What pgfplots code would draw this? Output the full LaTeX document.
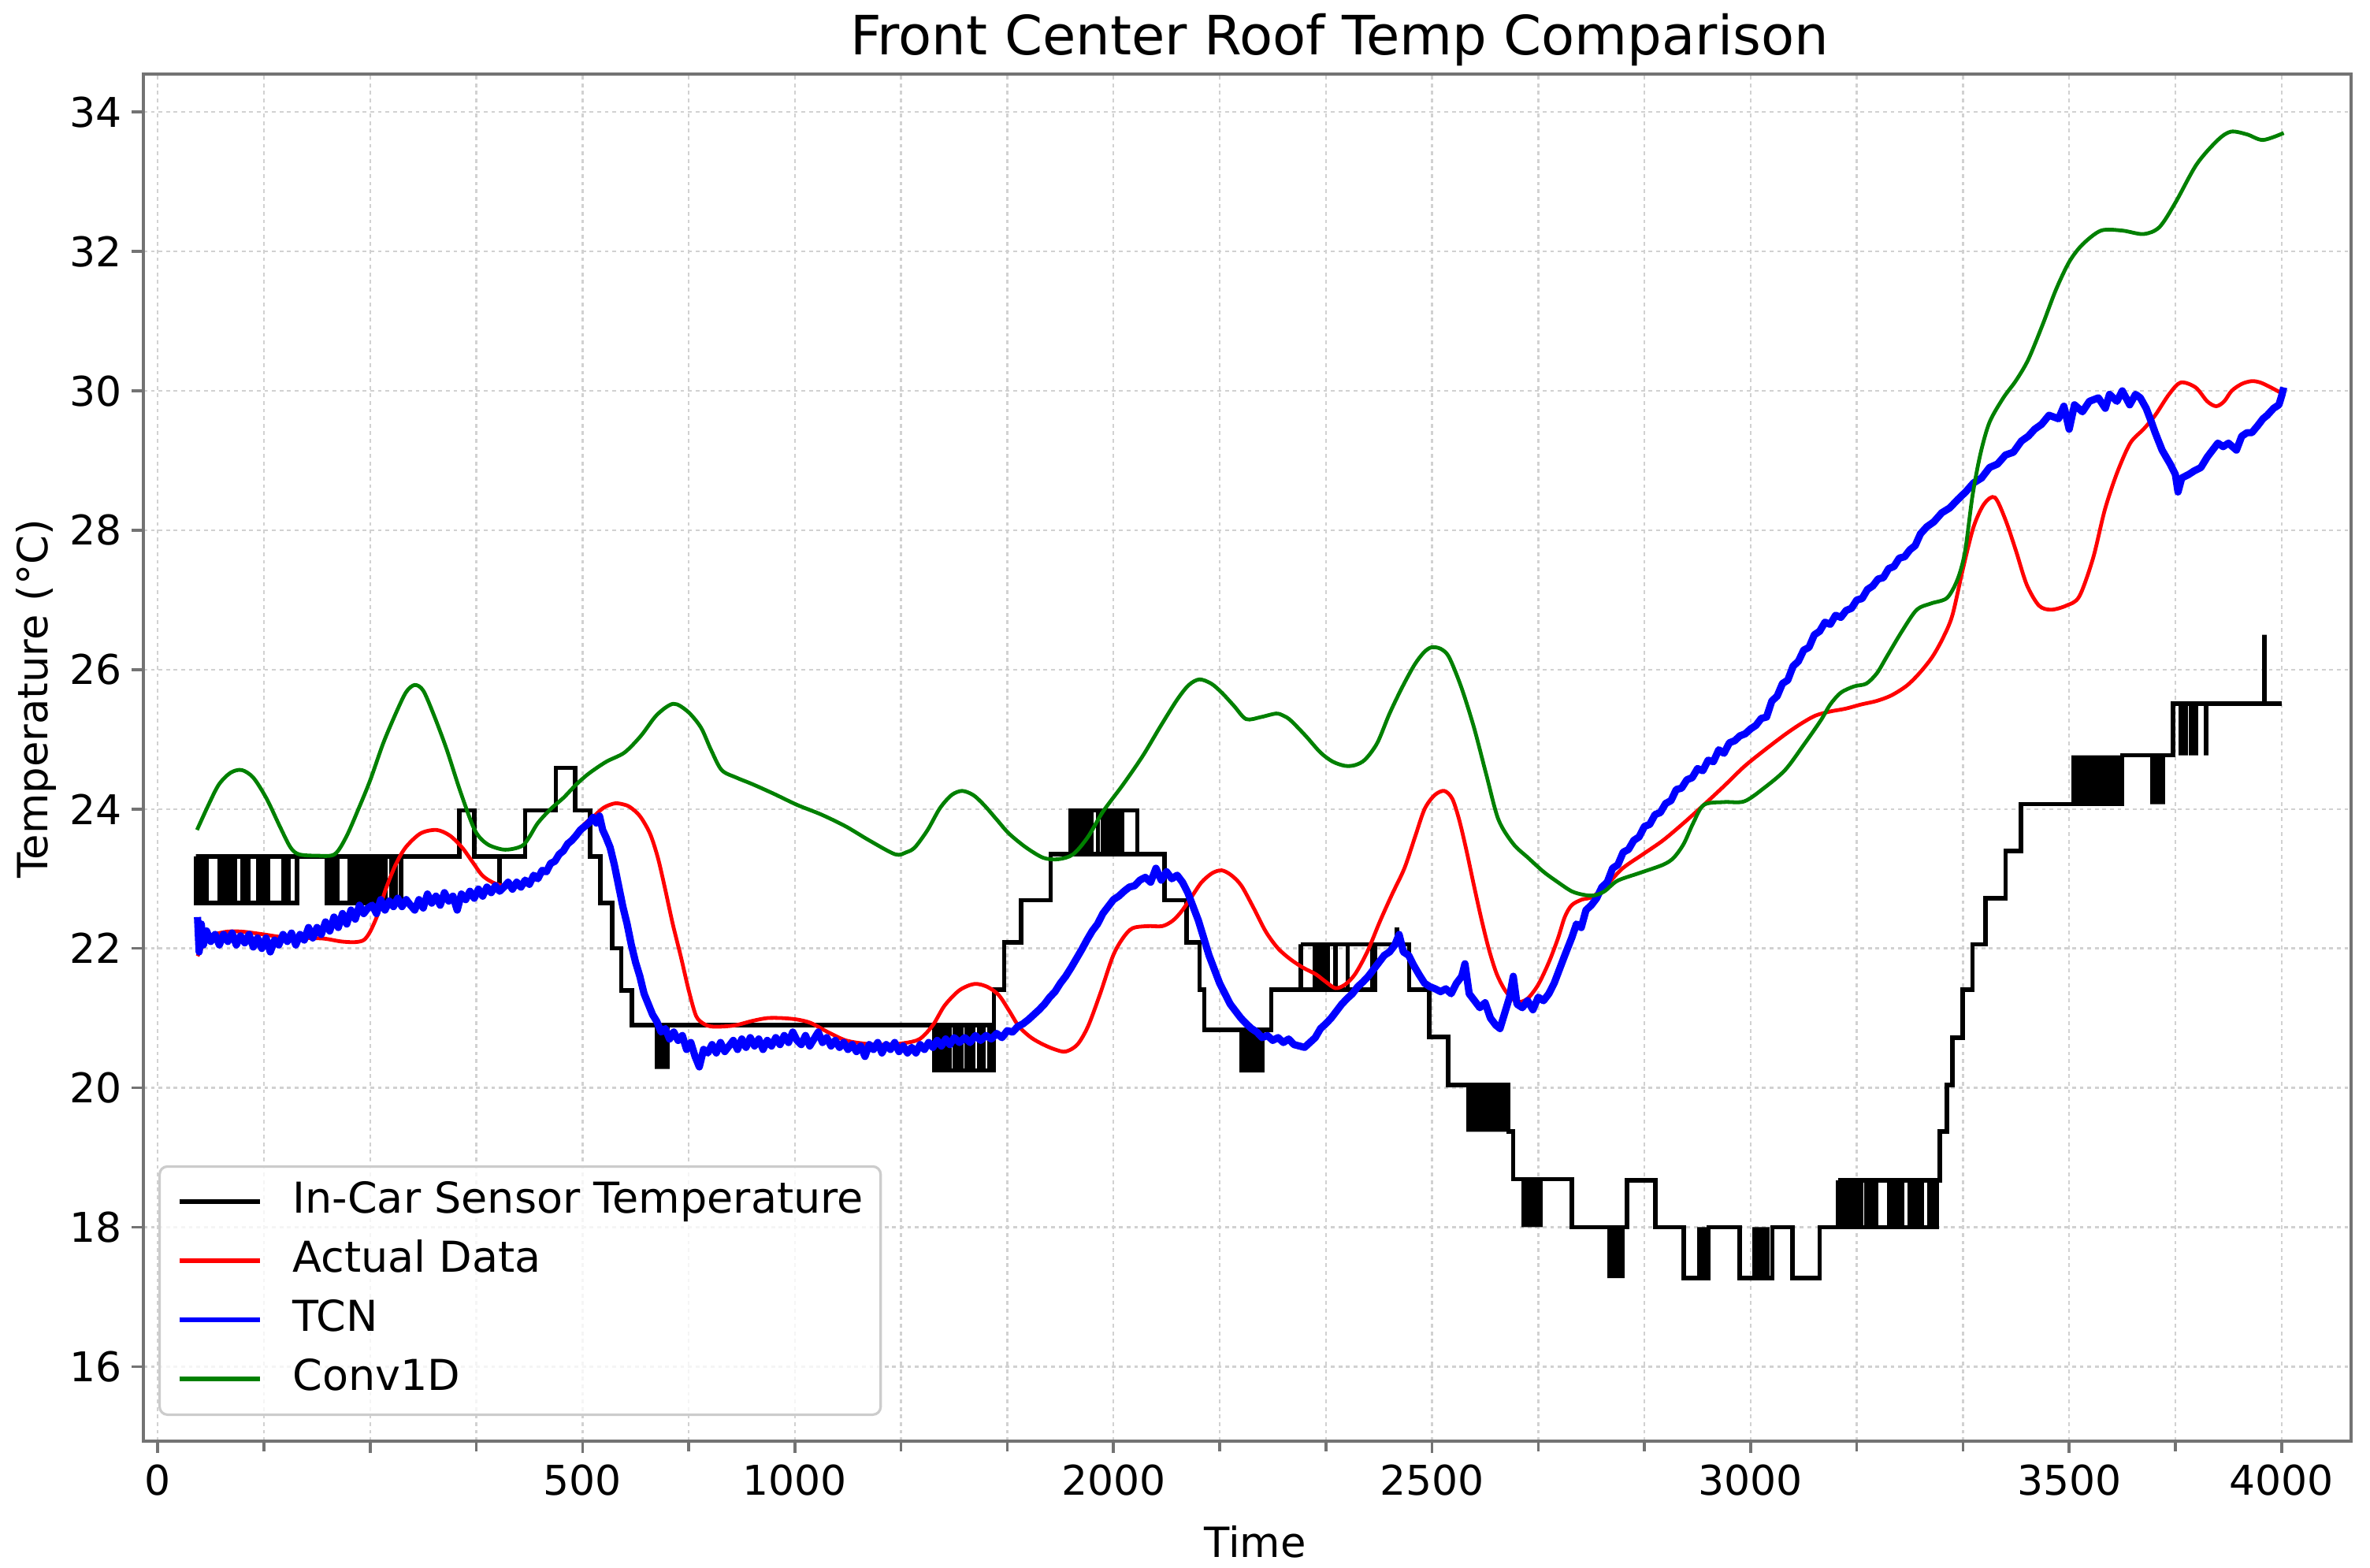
\documentclass[border=0pt]{standalone}
\usepackage{fontspec}
\setmainfont{DejaVu Sans}
\usepackage{pgfplots}
\pgfplotsset{compat=1.18}

\definecolor{mplgreen}{rgb}{0,0.5,0}

\begin{document}
\begin{tikzpicture}
\begin{axis}[
  name=ax,
  width=700.5pt, height=433.75pt, scale only axis,
  xmin=-27, xmax=4131, ymin=14.93, ymax=34.546,
  axis line style={black!55, line width=1.1pt},
  tick style={black!55, line width=0.9pt},
  major tick length=3.75pt, minor tick length=3.2pt,
  tick align=outside, xtick pos=bottom, ytick pos=left,
  xtick={0,400,800,1200,1800,2400,3000,3600,4000},
  xticklabels={0,,{500\hspace{11pt}},1000,2000,2500,3000,3500,4000},
  minor xtick={200,600,1000,1400,1600,2000,2200,2600,2800,3200,3400,3800},
  ytick={16,18,20,22,24,26,28,30,32,34},
  grid=both,
  major grid style={black!18, line width=0.6pt, dash pattern=on 1.2pt off 1.2pt},
  minor grid style={black!18, line width=0.6pt, dash pattern=on 1.2pt off 1.2pt},
  /pgf/number format/assume math mode=true,
  ticklabel style={font=\fontsize{13}{15.6}\selectfont},
  xticklabel style={anchor=north, inner sep=0pt, yshift=-3.5pt},
  yticklabel style={anchor=east, inner sep=0pt, xshift=-3pt},
  title={Front Center Roof Temp Comparison},
  title style={at={(axis description cs:0.5418,1)}, anchor=base, inner sep=0pt, font=\fontsize{17.2}{20}\selectfont},
  xlabel={Time},
  xlabel style={at={(axis description cs:0.5036,-0.08473)}, anchor=base, inner sep=0pt, font=\fontsize{13.2}{16}\selectfont},
  ylabel={Temperature (°C)},
  ylabel style={at={(axis description cs:-0.04354,0.543)}, anchor=base, inner sep=0pt, font=\fontsize{13.2}{16}\selectfont},
  legend style={at={(axis description cs:0.00678,0.01844)}, anchor=south west,
    draw=black!20, line width=0.8pt, rounded corners=2.5pt, fill=white, fill opacity=0.8, text opacity=1,
    font=\fontsize{13.5}{16}\selectfont, inner xsep=5.5pt, inner ysep=4.5pt,
    nodes={inner sep=0pt, text height=10.3pt, text depth=3.2pt},
    row sep=5.25pt, column sep=9.75pt},
  legend cell align=left,
  legend image code/.code={\draw[#1, line width=1.5pt] (0pt,0pt) -- (25.5pt,0pt);},
]

% In-Car Sensor Temperature (stepped, flickering sensor)
\addplot[black, line width=1.4pt, const plot mark left] coordinates {
(72,22.65)
(72,23.32)(72,22.65)(76,23.32)(76,22.65)(80,23.32)(80,22.65)(84,23.32)(84,22.65)(88,23.32)(88,22.65)(92,23.32)(92,22.65)
(117,23.32)(117,22.65)(121,23.32)(121,22.65)(125,23.32)(125,22.65)(129,23.32)(129,22.65)(133,23.32)(133,22.65)(137,23.32)(137,22.65)(141,23.32)(141,22.65)(146,23.32)(146,22.65)
(160,23.32)(160,22.65)(165,23.32)(165,22.65)(170,23.32)(170,22.65)
(189,23.32)(189,22.65)(193,23.32)(193,22.65)(197,23.32)(197,22.65)(201,23.32)(201,22.65)(205,23.32)(205,22.65)(208,23.32)(208,22.65)
(237,23.32)(237,22.65)(242,23.32)(242,22.65)(246,23.32)(246,22.65)
(262,23.32)(72,23.32)
(318,22.65)
(322,23.32)(322,22.65)(328,23.32)(328,22.65)(334,23.32)(334,22.65)(338,23.32)(338,22.65)
(362,23.32)(362,22.65)(366,23.32)(366,22.65)(370,23.32)(370,22.65)(374,23.32)(374,22.65)(378,23.32)(378,22.65)(382,23.32)(382,22.65)(386,23.32)(386,22.65)(390,23.32)(390,22.65)(394,23.32)(394,22.65)(398,23.32)(398,22.65)(402,23.32)(402,22.65)(406,23.32)(406,22.65)(410,23.32)(410,22.65)(414,23.32)(414,22.65)(418,23.32)(418,22.65)(422,23.32)(422,22.65)(426,23.32)(426,22.65)
(429,23.32)(318,23.32)
(440,22.65)(440,23.32)(448,22.65)(448,23.32)(458,22.65)(458,23.32)
(568,23.98)(596,23.32)(644,22.8)(644,23.32)(692,23.98)(750,24.59)(786,23.98)(814,23.32)(834,22.65)(856,22.0)(873,21.4)(893,20.9)
(940,20.27)(940,20.9)(944,20.27)(944,20.9)(948,20.27)(948,20.9)(952,20.27)(952,20.9)(956,20.27)(956,20.9)(960,20.27)(960,20.9)
(1463,20.25)
(1467,20.9)(1467,20.25)(1471,20.9)(1471,20.25)(1475,20.9)(1475,20.25)(1479,20.9)(1479,20.25)(1482,20.9)(1482,20.25)
(1491,20.9)(1491,20.25)
(1501,20.9)(1501,20.25)(1505,20.9)(1505,20.25)(1509,20.9)(1509,20.25)(1513,20.9)(1513,20.25)
(1524,20.9)(1524,20.25)(1528,20.9)(1528,20.25)(1532,20.9)(1532,20.25)(1536,20.9)(1536,20.25)
(1547,20.9)(1547,20.25)(1551,20.9)(1551,20.25)(1555,20.9)(1555,20.25)
(1566,20.9)(1566,20.25)(1570,20.9)(1570,20.25)
(1575,20.9)(1463,20.9)
(1575,21.41)(1594,22.09)(1626,22.69)(1682,23.35)
(1719,23.98)(1719,23.35)(1723,23.98)(1723,23.35)(1727,23.98)(1727,23.35)(1731,23.98)(1731,23.35)(1735,23.98)(1735,23.35)(1739,23.98)(1739,23.35)(1743,23.98)(1743,23.35)(1747,23.98)(1747,23.35)(1751,23.98)(1751,23.35)(1755,23.98)(1755,23.35)(1759,23.98)(1759,23.35)
(1771,23.98)(1771,23.35)
(1780,23.98)(1780,23.35)(1784,23.98)(1784,23.35)(1788,23.98)(1788,23.35)(1792,23.98)(1792,23.35)(1796,23.98)(1796,23.35)(1800,23.98)(1800,23.35)(1804,23.98)(1804,23.35)(1808,23.98)(1808,23.35)(1812,23.98)(1812,23.35)(1816,23.98)(1816,23.35)
(1845,23.98)(1845,23.35)(1845,23.98)(1719,23.98)(1719,23.35)
(1896,22.69)(1938,22.09)(1962,21.41)(1971,20.83)
(2041,20.22)(2041,20.83)(2045,20.22)(2045,20.83)(2049,20.22)(2049,20.83)(2053,20.22)(2053,20.83)(2057,20.22)(2057,20.83)(2061,20.22)(2061,20.83)(2065,20.22)(2065,20.83)(2069,20.22)(2069,20.83)(2073,20.22)(2073,20.83)(2077,20.22)(2077,20.83)(2081,20.22)(2081,20.83)
(2097,21.41)
(2153,22.06)(2153,21.41)
(2180,22.06)(2180,21.41)(2184,22.06)(2184,21.41)(2188,22.06)(2188,21.41)(2192,22.06)(2192,21.41)(2196,22.06)(2196,21.41)(2200,22.06)(2200,21.41)(2204,22.06)(2204,21.41)
(2218,22.06)(2218,21.41)(2241,22.06)(2241,21.41)(2288,22.06)(2288,21.41)
(2292,22.06)(2153,22.06)
(2334,22.3)(2334,22.06)
(2357,21.41)(2395,20.73)(2430,20.04)
(2469,19.37)(2469,20.04)(2473,19.37)(2473,20.04)(2477,19.37)(2477,20.04)(2481,19.37)(2481,20.04)(2485,19.37)(2485,20.04)(2489,19.37)(2489,20.04)(2493,19.37)(2493,20.04)(2497,19.37)(2497,20.04)(2501,19.37)(2501,20.04)(2505,19.37)(2505,20.04)(2509,19.37)(2509,20.04)(2513,19.37)(2513,20.04)(2517,19.37)(2517,20.04)(2521,19.37)(2521,20.04)(2525,19.37)(2525,20.04)(2529,19.37)(2529,20.04)(2533,19.37)(2533,20.04)(2537,19.37)(2537,20.04)(2541,19.37)(2541,20.04)
(2544,19.37)(2553,18.69)
(2572,18.0)(2572,18.69)(2576,18.0)(2576,18.69)(2580,18.0)(2580,18.69)(2584,18.0)(2584,18.69)(2588,18.0)(2588,18.69)(2592,18.0)(2592,18.69)(2596,18.0)(2596,18.69)(2600,18.0)(2600,18.69)(2604,18.0)(2604,18.69)
(2663,18.0)
(2735,17.27)(2735,18.0)(2739,17.27)(2739,18.0)(2743,17.27)(2743,18.0)(2747,17.27)(2747,18.0)(2751,17.27)(2751,18.0)(2755,17.27)(2755,18.0)(2759,17.27)(2759,18.0)
(2767,18.67)(2821,18.0)(2874,17.27)
(2903,18.0)(2903,17.27)(2907,18.0)(2907,17.27)(2911,18.0)(2911,17.27)(2915,18.0)(2915,17.27)
(2921,18.0)(2979,17.27)
(3007,18.0)(3007,17.27)(3011,18.0)(3011,17.27)(3015,18.0)(3015,17.27)(3019,18.0)(3019,17.27)(3023,18.0)(3023,17.27)(3027,18.0)(3027,17.27)(3031,18.0)(3031,17.27)
(3041,18.0)(3079,17.27)(3130,18.0)
(3165,18.67)(3165,18.0)(3169,18.67)(3169,18.0)(3173,18.67)(3173,18.0)(3177,18.67)(3177,18.0)(3181,18.67)(3181,18.0)(3185,18.67)(3185,18.0)(3189,18.67)(3189,18.0)(3193,18.67)(3193,18.0)(3197,18.67)(3197,18.0)(3201,18.67)(3201,18.0)(3205,18.67)(3205,18.0)(3208,18.67)(3208,18.0)
(3218,18.67)(3218,18.0)(3222,18.67)(3222,18.0)(3226,18.67)(3226,18.0)(3230,18.67)(3230,18.0)(3234,18.67)(3234,18.0)(3237,18.67)(3237,18.0)
(3261,18.67)(3261,18.0)(3265,18.67)(3265,18.0)(3269,18.67)(3269,18.0)(3273,18.67)(3273,18.0)(3277,18.67)(3277,18.0)(3281,18.67)(3281,18.0)(3285,18.67)(3285,18.0)
(3299,18.67)(3299,18.0)(3303,18.67)(3303,18.0)(3307,18.67)(3307,18.0)(3311,18.67)(3311,18.0)(3315,18.67)(3315,18.0)(3319,18.67)(3319,18.0)(3323,18.67)(3323,18.0)
(3337,18.67)(3337,18.0)(3341,18.67)(3341,18.0)(3345,18.67)(3345,18.0)(3349,18.67)(3349,18.0)
(3351,18.67)(3165,18.67)
(3356,19.37)(3370,20.04)(3380,20.72)(3399,21.41)(3418,22.06)(3442,22.72)(3480,23.40)(3509,24.07)
(3609,24.77)(3609,24.07)(3612,24.77)(3612,24.07)(3615,24.77)(3615,24.07)(3618,24.77)(3618,24.07)(3621,24.77)(3621,24.07)(3624,24.77)(3624,24.07)(3627,24.77)(3627,24.07)(3630,24.77)(3630,24.07)
(3636,24.77)(3636,24.07)(3639,24.77)(3639,24.07)(3642,24.77)(3642,24.07)(3645,24.77)(3645,24.07)(3648,24.77)(3648,24.07)
(3654,24.77)(3654,24.07)(3657,24.77)(3657,24.07)(3660,24.77)(3660,24.07)(3663,24.77)(3663,24.07)(3666,24.77)(3666,24.07)
(3672,24.77)(3672,24.07)(3675,24.77)(3675,24.07)(3678,24.77)(3678,24.07)(3684,24.77)(3684,24.07)(3687,24.77)(3687,24.07)(3693,24.77)(3693,24.07)(3697,24.77)(3697,24.07)
(3700,24.77)
(3757,24.07)(3757,24.77)(3761,24.07)(3761,24.77)(3765,24.07)(3765,24.77)(3769,24.07)(3769,24.77)(3773,24.07)(3773,24.77)(3777,24.07)(3777,24.77)
(3796,25.51)
(3810,24.77)(3810,25.51)(3813,24.77)(3813,25.51)(3816,24.77)(3816,25.51)(3820,24.77)(3820,25.51)
(3829,24.77)(3829,25.51)(3832,24.77)(3832,25.51)(3836,24.77)(3836,25.51)(3839,24.77)(3839,25.51)
(3858,24.77)(3858,25.51)
(3968,26.5)(3968,25.51)
(4001,25.51)
};
\addlegendentry{In-Car Sensor Temperature}

% Actual Data
\addplot[red, line width=1.2pt, smooth, tension=0.5] coordinates {
(75,21.89)(90,22.1)(103,22.19)(130,22.24)(160,22.24)(200,22.2)(237,22.16)(280,22.15)(314,22.14)(345,22.1)(371,22.09)(388,22.12)
(400,22.24)(415,22.5)(429,22.84)(448,23.2)(467,23.45)(495,23.65)(525,23.70)(550,23.62)(573,23.45)(592,23.25)(611,23.05)(630,22.95)
(649,22.90)(668,22.88)(688,22.90)(712,23.0)(736,23.15)(760,23.38)(784,23.60)(803,23.78)(822,23.90)(840,24.02)(860,24.08)(875,24.07)
(889,24.03)(908,23.9)(927,23.65)(942,23.3)(956,22.84)(970,22.35)(985,21.89)(1000,21.4)(1014,21.03)(1028,20.92)(1042,20.88)(1066,20.88)
(1090,20.90)(1120,20.96)(1148,21.00)(1176,21.0)(1204,20.98)(1230,20.93)(1262,20.8)(1296,20.68)(1335,20.63)(1370,20.62)(1405,20.64)
(1435,20.70)(1460,20.9)(1482,21.18)(1510,21.4)(1538,21.49)(1562,21.45)(1584,21.33)(1604,21.1)(1622,20.88)(1645,20.72)(1668,20.62)
(1690,20.55)(1710,20.52)(1732,20.62)(1752,20.88)(1775,21.35)(1799,21.89)(1818,22.15)(1836,22.29)(1864,22.32)(1892,22.32)(1912,22.4)
(1929,22.54)(1948,22.75)(1966,22.95)(1986,23.08)(2004,23.12)(2022,23.05)(2041,22.90)(2064,22.58)(2087,22.24)(2110,22.0)(2134,21.84)
(2158,21.72)(2181,21.63)(2200,21.52)(2218,21.43)(2236,21.48)(2255,21.63)(2278,21.95)(2302,22.39)(2325,22.78)(2348,23.15)(2368,23.6)
(2386,24.00)(2405,24.2)(2423,24.26)(2438,24.15)(2451,23.85)(2465,23.4)(2479,22.90)(2493,22.42)(2507,21.99)(2521,21.65)(2535,21.43)
(2548,21.3)(2562,21.23)(2580,21.28)(2600,21.48)(2620,21.8)(2637,22.14)(2650,22.45)(2663,22.62)(2682,22.7)(2702,22.74)(2730,22.92)
(2759,23.15)(2797,23.35)(2835,23.55)(2874,23.8)(2912,24.06)(2950,24.33)(2988,24.61)(3027,24.85)(3065,25.07)(3094,25.22)(3122,25.34)
(3150,25.4)(3179,25.44)(3208,25.5)(3237,25.55)(3265,25.63)(3294,25.77)(3318,25.95)(3342,26.18)(3362,26.45)(3380,26.78)(3400,27.45)
(3420,28.05)(3440,28.38)(3460,28.47)(3480,28.15)(3500,27.7)(3520,27.22)(3543,26.92)(3566,26.86)(3595,26.92)(3619,27.05)(3645,27.6)
(3667,28.29)(3690,28.82)(3715,29.25)(3740,29.45)(3762,29.65)(3788,29.95)(3810,30.12)(3838,30.05)(3860,29.85)(3877,29.78)(3892,29.85)
(3906,30.00)(3925,30.1)(3944,30.14)(3960,30.12)(3977,30.06)(3992,30.0)(4004,29.95)
};
\addlegendentry{Actual Data}

% TCN (noisy prediction)
\addplot[blue, line width=2.3pt, line join=round] coordinates {
(75,22.45)(78,21.95)(82,22.35)(86,22.05)(92,22.25)(100,22.1)(108,22.2)(116,22.05)(124,22.2)(132,22.1)(140,22.22)(148,22.05)
(156,22.18)(164,22.08)(172,22.2)(180,22.02)(188,22.15)(196,22.0)(204,22.15)(212,21.95)(220,22.12)(228,22.05)(236,22.2)(244,22.1)
(252,22.22)(260,22.05)(268,22.2)(276,22.12)(284,22.3)(292,22.15)(300,22.3)(308,22.2)(316,22.38)(324,22.25)(332,22.45)(340,22.3)
(348,22.5)(356,22.35)(364,22.55)(372,22.42)(380,22.62)(388,22.5)(396,22.58)(404,22.62)(412,22.5)(420,22.7)(428,22.55)(436,22.68)
(444,22.6)(452,22.72)(460,22.6)(468,22.7)(476,22.62)(484,22.55)(492,22.7)(500,22.58)(508,22.78)(516,22.65)(524,22.75)(532,22.62)
(540,22.8)(548,22.68)(556,22.75)(564,22.55)(572,22.78)(580,22.7)(588,22.82)(596,22.72)(604,22.85)(612,22.75)(620,22.88)(628,22.8)
(636,22.9)(644,22.82)(652,22.88)(660,22.95)(668,22.85)(676,22.95)(684,22.88)(692,22.98)(700,22.92)(708,23.05)(716,23.0)(724,23.12)
(732,23.1)(740,23.22)(748,23.25)(756,23.35)(764,23.4)(772,23.5)(780,23.55)(788,23.62)(796,23.7)(804,23.75)(812,23.8)(820,23.88)
(826,23.8)(832,23.9)(838,23.7)(844,23.6)(852,23.45)(860,23.2)(868,22.9)(876,22.6)(884,22.35)(892,22.05)(900,21.8)(908,21.6)
(916,21.35)(924,21.2)(932,21.05)(940,20.95)(948,20.8)(956,20.85)(964,20.7)(972,20.8)(980,20.68)(988,20.75)(996,20.55)(1004,20.65)
(1012,20.45)(1020,20.3)(1028,20.55)(1036,20.5)(1044,20.62)(1052,20.5)(1060,20.65)(1068,20.52)(1076,20.6)(1084,20.68)(1092,20.55)
(1100,20.7)(1108,20.58)(1116,20.72)(1124,20.6)(1132,20.7)(1140,20.55)(1148,20.68)(1156,20.6)(1164,20.72)(1172,20.62)(1180,20.75)
(1188,20.65)(1196,20.8)(1204,20.68)(1212,20.62)(1220,20.75)(1228,20.6)(1236,20.7)(1244,20.8)(1252,20.65)(1260,20.72)(1268,20.6)
(1276,20.68)(1284,20.58)(1292,20.65)(1300,20.55)(1308,20.62)(1316,20.52)(1324,20.6)(1332,20.45)(1340,20.62)(1348,20.55)(1356,20.65)
(1364,20.5)(1372,20.62)(1380,20.55)(1388,20.65)(1396,20.52)(1404,20.6)(1412,20.5)(1420,20.58)(1428,20.5)(1436,20.62)(1444,20.55)
(1452,20.65)(1460,20.58)(1468,20.68)(1476,20.6)(1484,20.7)(1492,20.62)(1500,20.72)(1510,20.65)(1520,20.72)(1530,20.65)(1540,20.75)
(1550,20.68)(1560,20.75)(1570,20.7)(1580,20.78)(1590,20.72)(1600,20.82)(1610,20.8)(1620,20.88)(1630,20.92)(1640,20.98)(1650,21.05)
(1660,21.12)(1670,21.2)(1680,21.3)(1690,21.38)(1700,21.5)(1710,21.6)(1720,21.72)(1730,21.85)(1740,21.98)(1750,22.12)(1760,22.25)
(1770,22.35)(1780,22.5)(1790,22.6)(1800,22.7)(1810,22.75)(1820,22.82)(1830,22.88)(1840,22.9)(1850,22.98)(1860,23.02)(1870,22.95)
(1880,23.15)(1890,22.98)(1900,23.1)(1910,23.0)(1920,23.05)(1930,22.95)(1940,22.8)(1950,22.6)(1960,22.4)(1970,22.15)(1980,21.9)
(1990,21.7)(2000,21.5)(2010,21.35)(2020,21.2)(2030,21.1)(2040,21.0)(2050,20.92)(2060,20.85)(2070,20.8)(2080,20.72)(2090,20.75)
(2100,20.68)(2110,20.72)(2120,20.65)(2130,20.7)(2140,20.62)(2150,20.6)(2160,20.58)(2170,20.65)(2180,20.72)(2190,20.85)(2200,20.92)
(2210,21.0)(2220,21.1)(2230,21.2)(2240,21.28)(2250,21.35)(2260,21.45)(2270,21.52)(2280,21.6)(2290,21.7)(2300,21.8)(2310,21.9)
(2320,21.95)(2330,22.05)(2338,22.2)(2346,21.95)(2356,21.9)(2366,21.75)(2376,21.62)(2386,21.5)(2396,21.45)(2406,21.42)(2416,21.38)
(2426,21.42)(2436,21.35)(2446,21.5)(2456,21.6)(2462,21.78)(2470,21.35)(2480,21.25)(2490,21.15)(2500,21.22)(2510,21.0)(2520,20.9)
(2528,20.85)(2536,21.05)(2546,21.3)(2553,21.6)(2560,21.2)(2570,21.15)(2580,21.25)(2590,21.12)(2600,21.3)(2610,21.25)(2620,21.35)
(2630,21.5)(2640,21.7)(2650,21.9)(2663,22.15)(2672,22.35)(2681,22.3)(2690,22.55)(2700,22.62)(2710,22.72)(2720,22.88)(2730,22.95)
(2740,23.15)(2750,23.2)(2760,23.38)(2770,23.42)(2780,23.55)(2790,23.6)(2800,23.75)(2810,23.78)(2820,23.92)(2830,23.95)(2840,24.08)
(2850,24.12)(2860,24.28)(2870,24.3)(2880,24.42)(2890,24.45)(2900,24.58)(2910,24.55)(2920,24.7)(2930,24.68)(2940,24.85)(2950,24.8)
(2960,24.95)(2970,24.98)(2980,25.05)(2990,25.08)(3000,25.15)(3010,25.2)(3020,25.3)(3030,25.32)(3040,25.55)(3050,25.62)(3060,25.8)
(3070,25.85)(3080,26.05)(3090,26.12)(3100,26.28)(3110,26.32)(3120,26.5)(3130,26.55)(3140,26.68)(3150,26.65)(3160,26.78)(3170,26.75)
(3180,26.85)(3190,26.88)(3200,27.0)(3210,27.02)(3220,27.15)(3230,27.2)(3240,27.3)(3250,27.32)(3260,27.45)(3270,27.48)(3280,27.6)
(3290,27.62)(3300,27.72)(3310,27.78)(3320,27.95)(3332,28.05)(3345,28.12)(3360,28.25)(3375,28.32)(3390,28.44)(3405,28.55)(3420,28.68)
(3435,28.75)(3450,28.9)(3465,28.95)(3480,29.08)(3495,29.12)(3510,29.28)(3523,29.35)(3535,29.45)(3548,29.52)(3562,29.65)(3580,29.6)
(3590,29.78)(3600,29.45)(3610,29.8)(3625,29.7)(3638,29.85)(3655,29.9)(3668,29.75)(3676,29.95)(3690,29.85)(3700,30.0)(3714,29.8)
(3725,29.95)(3734,29.9)(3745,29.75)(3755,29.55)(3762,29.4)(3775,29.15)(3791,28.94)(3800,28.8)(3805,28.55)(3812,28.75)(3825,28.8)
(3835,28.85)(3848,28.9)(3860,29.05)(3870,29.15)(3880,29.25)(3890,29.2)(3900,29.25)(3915,29.15)(3925,29.35)(3935,29.4)(3944,29.4)
(3955,29.5)(3965,29.6)(3973,29.65)(3985,29.75)(3995,29.8)(4001,29.95)(4004,30.05)
};
\addlegendentry{TCN}

% Conv1D
\addplot[mplgreen, line width=1.2pt, smooth, tension=0.5] coordinates {
(74,23.70)(95,24.05)(115,24.35)(137,24.52)(158,24.56)(180,24.45)(205,24.15)(230,23.75)(250,23.45)(266,23.35)(300,23.33)(333,23.35)
(355,23.6)(378,24.0)(400,24.41)(425,24.95)(450,25.4)(468,25.68)(484,25.78)(500,25.7)(520,25.35)(544,24.86)(570,24.25)(597,23.70)
(620,23.5)(649,23.42)(670,23.43)(688,23.48)(700,23.6)(716,23.80)(740,24.0)(764,24.16)(788,24.35)(812,24.51)(845,24.68)(879,24.81)
(910,25.05)(940,25.35)(971,25.51)(998,25.4)(1023,25.17)(1042,24.85)(1062,24.56)(1090,24.45)(1119,24.36)(1160,24.22)(1204,24.06)
(1250,23.92)(1296,23.75)(1340,23.55)(1389,23.35)(1410,23.38)(1426,23.45)(1450,23.7)(1473,24.01)(1495,24.2)(1515,24.26)(1536,24.2)
(1556,24.06)(1580,23.85)(1603,23.65)(1635,23.45)(1668,23.30)(1696,23.28)(1724,23.35)(1752,23.6)(1780,23.96)(1818,24.35)(1855,24.76)
(1888,25.18)(1920,25.57)(1942,25.78)(1962,25.86)(1984,25.8)(2004,25.67)(2027,25.48)(2050,25.29)(2078,25.32)(2106,25.37)(2120,25.34)
(2134,25.27)(2162,25.05)(2190,24.81)(2213,24.68)(2236,24.62)(2255,24.63)(2274,24.71)(2297,24.95)(2320,25.37)(2344,25.75)(2367,26.07)
(2385,26.25)(2399,26.32)(2416,26.3)(2432,26.18)(2455,25.75)(2479,25.17)(2502,24.5)(2525,23.85)(2553,23.5)(2581,23.30)(2610,23.1)
(2637,22.95)(2663,22.82)(2685,22.77)(2705,22.76)(2725,22.82)(2749,22.97)(2790,23.08)(2835,23.20)(2855,23.3)(2874,23.50)(2892,23.8)
(2912,24.06)(2950,24.1)(2988,24.11)(3025,24.3)(3065,24.56)(3100,24.92)(3132,25.27)(3150,25.5)(3170,25.67)(3195,25.76)(3218,25.80)
(3238,25.95)(3256,26.18)(3285,26.55)(3313,26.86)(3340,26.95)(3370,27.03)(3390,27.3)(3404,27.7)(3418,28.5)(3433,29.1)(3450,29.55)
(3476,29.9)(3500,30.15)(3523,30.45)(3550,30.95)(3575,31.45)(3600,31.85)(3625,32.1)(3660,32.3)(3700,32.3)(3740,32.25)(3770,32.35)
(3800,32.7)(3840,33.25)(3880,33.6)(3905,33.72)(3935,33.68)(3965,33.6)(4004,33.7)
};
\addlegendentry{Conv1D}

\end{axis}
\pgfresetboundingbox
\path ([xshift=-45.5pt,yshift=-40.25pt]ax.south west) rectangle ([xshift=6pt,yshift=23.5pt]ax.north east);
\end{tikzpicture}
\end{document}
